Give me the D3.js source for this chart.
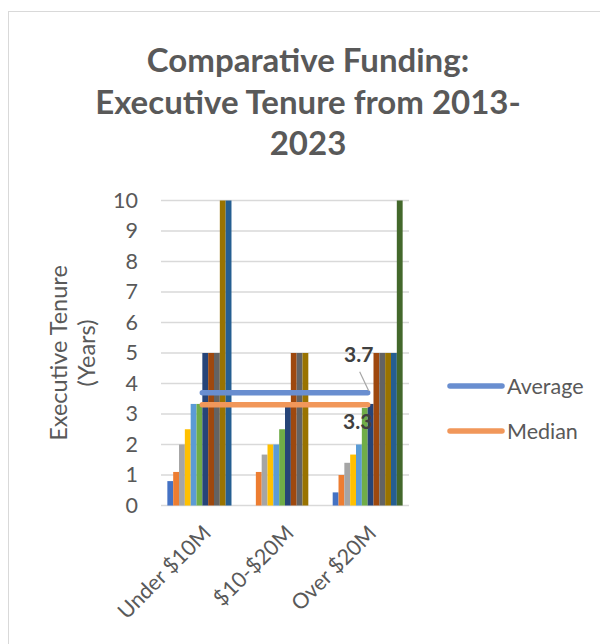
<!DOCTYPE html>
<html>
<head>
<meta charset="utf-8">
<script src="https://cdn.jsdelivr.net/npm/d3@7/dist/d3.min.js"></script>
<style>
  html, body { margin: 0; padding: 0; background: #fff; }
  svg { display: block; }
  text { font-family: Lato, "Open Sans", sans-serif; }
</style>
</head>
<body>
<svg id="chart" width="600" height="644"></svg>
<script>
// Funding bands on the x axis
const categories = ["Under $10M", "$10-$20M", "Over $20M"];

// Twelve tenure series (years), one value per funding band
const series1  = [0.8, 0,    0.43];
const series2  = [1.1, 1.1,  1.0];
const series3  = [2.0, 1.67, 1.4];
const series4  = [2.5, 2.0,  1.67];
const series5  = [3.33, 2.0, 2.0];
const series6  = [3.33, 2.5, 3.2];
const series7  = [5, 3.25,   3.33];
const series8  = [5, 5,      5];
const series9  = [5, 5,      5];
const series10 = [10, 5,     5];
const series11 = [10, 0,     5];
const series12 = [0, 0,      10];

// Summary lines
const averageValues = [3.7, 3.7, 3.7];
const medianValues  = [3.3, 3.3, 3.3];

const yTicks = [0, 1, 2, 3, 4, 5, 6, 7, 8, 9, 10];

const barSeries = [series1, series2, series3, series4, series5, series6,
                   series7, series8, series9, series10, series11, series12];
const barColors = ["#4472C4", "#ED7D31", "#A5A5A5", "#FFC000", "#5B9BD5", "#70AD47",
                   "#264478", "#9E480E", "#636363", "#997300", "#255E91", "#43682B"];

const svg = d3.select("#chart");
const textColor = "#595959";
const gridColor = "#d9d9d9";
const fontFamily = "Lato, 'Open Sans', sans-serif";

// Chart frame
svg.append("rect")
  .attr("x", 8.5).attr("y", 11.5)
  .attr("width", 620).attr("height", 700)
  .attr("fill", "#fff").attr("stroke", gridColor).attr("stroke-width", 1);

// Title
const titleLines = ["Comparative Funding:", "Executive Tenure from 2013-", "2023"];
svg.append("text")
  .attr("text-anchor", "middle")
  .attr("fill", textColor)
  .attr("font-weight", "bold")
  .attr("font-size", 33)
  .selectAll("tspan").data(titleLines).join("tspan")
  .attr("x", 308)
  .attr("y", (d, i) => 72 + i * 41.5)
  .text(d => d);

const plot = { left: 161, right: 409, top: 200.5, bottom: 505.5 };

const x0 = d3.scaleBand().domain(categories).range([plot.left, plot.right]).padding(0);
const x1 = d3.scaleBand().domain(d3.range(barSeries.length))
  .range([0, x0.bandwidth()]).paddingInner(0).paddingOuter(1.09);
const y = d3.scaleLinear().domain([0, 10]).range([plot.bottom, plot.top]);

// Horizontal gridlines
svg.append("g")
  .selectAll("line").data(yTicks).join("line")
  .attr("x1", plot.left).attr("x2", plot.right)
  .attr("y1", d => y(d)).attr("y2", d => y(d))
  .attr("stroke", gridColor).attr("stroke-width", 1.5);

// Y axis labels
const yAxis = d3.axisLeft(y).tickValues(yTicks).tickSize(0).tickPadding(0).tickFormat(d3.format("d"));
const yg = svg.append("g").attr("transform", `translate(${plot.left - 23},0)`).call(yAxis);
yg.select(".domain").remove();
yg.selectAll("text").attr("font-size", 21.5).attr("fill", textColor)
  .attr("font-family", fontFamily);

// Y axis title
svg.append("text")
  .attr("transform", "translate(60,353) rotate(-90)")
  .attr("text-anchor", "middle")
  .attr("fill", textColor).attr("font-size", 23.5)
  .selectAll("tspan").data(["Executive Tenure", "(Years)"]).join("tspan")
  .attr("x", 0).attr("dy", (d, i) => i === 0 ? 7 : 28)
  .text(d => d);

// Clustered bars
const groups = svg.append("g").selectAll("g").data(categories).join("g")
  .attr("transform", d => `translate(${x0(d)},0)`);
groups.selectAll("rect")
  .data((c, ci) => barSeries.map((s, si) => ({ si, v: s[ci] })))
  .join("rect")
  .attr("x", d => x1(d.si))
  .attr("width", x1.bandwidth())
  .attr("y", d => y(d.v))
  .attr("height", d => y(0) - y(d.v))
  .attr("fill", d => barColors[d.si]);

// X axis category labels
const xAxis = d3.axisBottom(x0).tickSize(0).tickPadding(0);
const xg = svg.append("g").attr("transform", `translate(0,${plot.bottom})`).call(xAxis);
xg.select(".domain").remove();
xg.selectAll("text")
  .attr("font-size", 21.5).attr("fill", textColor)
  .attr("font-family", fontFamily)
  .attr("text-anchor", "end")
  .attr("dy", null)
  .attr("transform", "translate(10,29) rotate(-45)");

// Summary lines
const cx = d => x0(d) + x0.bandwidth() / 2;
const lineGen = d3.line().x((d, i) => cx(categories[i])).y(d => y(d));
svg.append("path").datum(medianValues).attr("d", lineGen)
  .attr("fill", "none").attr("stroke", "#F1975A").attr("stroke-width", 5.5).attr("stroke-linecap", "round");
svg.append("path").datum(averageValues).attr("d", lineGen)
  .attr("fill", "none").attr("stroke", "#698ED0").attr("stroke-width", 5.5).attr("stroke-linecap", "round");

// Value labels on the last point
const lastX = cx(categories[categories.length - 1]);
const lastAvg = averageValues[averageValues.length - 1];
const lastMed = medianValues[medianValues.length - 1];
svg.append("line")
  .attr("x1", lastX - 8).attr("y1", y(lastAvg) - 21)
  .attr("x2", lastX + 1).attr("y2", y(lastAvg) - 2)
  .attr("stroke", "#a6a6a6").attr("stroke-width", 1.2);
svg.append("text")
  .attr("x", lastX - 9).attr("y", y(lastAvg) - 31)
  .attr("text-anchor", "middle").attr("font-weight", "bold").attr("font-size", 21)
  .attr("fill", "#404040").text(d3.format(".1f")(lastAvg));
svg.append("text")
  .attr("x", lastX - 10).attr("y", y(lastMed) + 24.5)
  .attr("text-anchor", "middle").attr("font-weight", "bold").attr("font-size", 21)
  .attr("fill", "#404040").text(d3.format(".1f")(lastMed));

// Legend
const legendItems = [
  { name: "Average", color: "#698ED0", yPos: 386 },
  { name: "Median", color: "#F1975A", yPos: 431 }
];
const lg = svg.append("g").selectAll("g").data(legendItems).join("g")
  .attr("transform", d => `translate(448,${d.yPos})`);
lg.append("line").attr("x1", 2).attr("x2", 54).attr("y1", 0).attr("y2", 0)
  .attr("stroke", d => d.color).attr("stroke-width", 5.5).attr("stroke-linecap", "round");
lg.append("text").attr("x", 59).attr("y", 7.5)
  .attr("font-size", 21.5).attr("fill", textColor).text(d => d.name);
</script>
</body>
</html>
